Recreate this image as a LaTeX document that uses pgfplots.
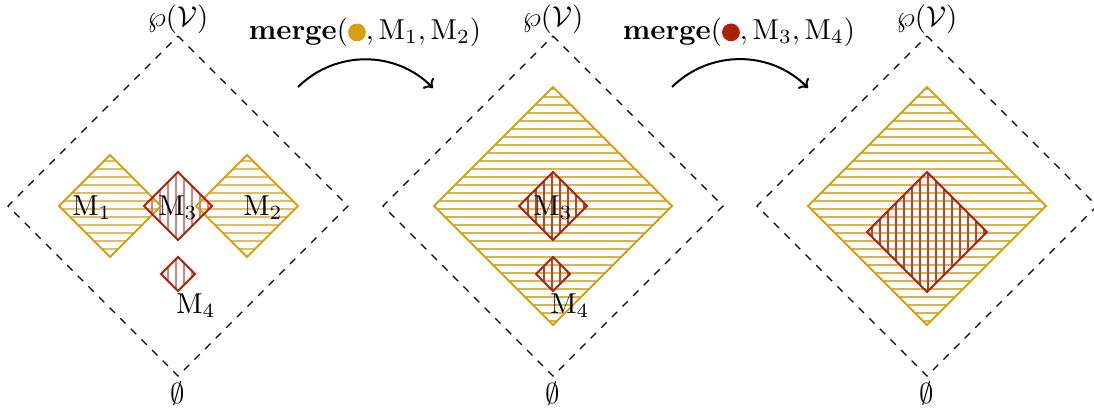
\documentclass[border=0pt]{standalone}
\usepackage{graphicx}
\usepackage{pgfplots}
\pgfplotsset{compat=1.18}
\usetikzlibrary{patterns.meta,arrows.meta}
\definecolor{ylw}{RGB}{214,160,18}
\definecolor{rd}{RGB}{172,32,10}
\tikzset{hpat/.style={pattern={Lines[angle=0,distance=3.2pt,line width=0.6pt]}},
         vpat/.style={pattern={Lines[angle=90,distance=3.2pt,line width=0.6pt]}}}
\newcommand\T[1]{\scalebox{1.15}{\normalsize #1}}
\begin{document}
\begin{tikzpicture}
\begin{axis}[
  x=0.4pt, y=0.4pt, y dir=reverse,
  xmin=0, xmax=1094, ymin=0, ymax=409,
  hide axis, clip=false,
]
% outer dashed lattices
\addplot[black, dashed, line width=0.45pt, no markers] coordinates {(178,36) (348,206) (178,376) (8,206) (178,36)};
\addplot[black, dashed, line width=0.45pt, no markers] coordinates {(553,36) (723,206) (553,376) (383,206) (553,36)};
\addplot[black, dashed, line width=0.45pt, no markers] coordinates {(927,36) (1097,206) (927,376) (757,206) (927,36)};
% panel 1
\addplot[draw=ylw, line width=0.8pt, no markers, hpat, pattern color=ylw!70!white] coordinates {(110,155) (161,206) (110,257) (59,206)} -- cycle;
\addplot[draw=ylw, line width=0.8pt, no markers, hpat, pattern color=ylw!70!white] coordinates {(247,155) (298,206) (247,257) (196,206)} -- cycle;
\addplot[draw=rd, line width=0.8pt, no markers, vpat, pattern color=rd!55!white] coordinates {(178,172) (212,206) (178,240) (144,206)} -- cycle;
\addplot[draw=rd, line width=0.8pt, no markers, vpat, pattern color=rd!55!white] coordinates {(178,257) (195,274) (178,291) (161,274)} -- cycle;
% panel 2
\addplot[draw=ylw, line width=0.8pt, no markers, hpat, pattern color=ylw!80!white] coordinates {(553,87) (672,206) (553,325) (434,206)} -- cycle;
\addplot[draw=rd, line width=0.8pt, no markers, vpat, pattern color=rd!85!white] coordinates {(553,172) (587,206) (553,240) (519,206)} -- cycle;
\addplot[draw=rd, line width=0.8pt, no markers, vpat, pattern color=rd!85!white] coordinates {(553,257) (570,274) (553,291) (536,274)} -- cycle;
% panel 3
\addplot[draw=ylw, line width=0.8pt, no markers, hpat, pattern color=ylw!80!white] coordinates {(927,87) (1046,206) (927,325) (808,206)} -- cycle;
\addplot[draw=rd, line width=0.8pt, no markers, vpat, pattern color=rd!85!white] coordinates {(927,172) (987,232) (927,292) (867,232)} -- cycle;
% labels
\node at (axis cs:92,208) {\T{$\mathrm{M}_1$}};
\node at (axis cs:178,208) {\T{$\mathrm{M}_3$}};
\node at (axis cs:263,208) {\T{$\mathrm{M}_2$}};
\node at (axis cs:196,306) {\T{$\mathrm{M}_4$}};
\node at (axis cs:553,208) {\T{$\mathrm{M}_3$}};
\node at (axis cs:570,306) {\T{$\mathrm{M}_4$}};
\node at (axis cs:178,19) {\T{$\wp(\mathcal{V})$}};
\node at (axis cs:553,19) {\T{$\wp(\mathcal{V})$}};
\node at (axis cs:927,19) {\T{$\wp(\mathcal{V})$}};
\node at (axis cs:178,394) {\T{$\emptyset$}};
\node at (axis cs:553,394) {\T{$\emptyset$}};
\node at (axis cs:927,394) {\T{$\emptyset$}};
\node at (axis cs:365,32) {\T{\textbf{merge}(\tikz[baseline=-0.55ex]\fill[ylw] (0,0) circle (3.1pt);$, \mathrm{M}_1, \mathrm{M}_2)$}};
\node at (axis cs:739,32) {\T{\textbf{merge}(\tikz[baseline=-0.55ex]\fill[rd] (0,0) circle (3.1pt);$, \mathrm{M}_3, \mathrm{M}_4)$}};
\draw[line width=0.8pt, -{To[length=3pt,width=6pt]}] (axis cs:298,87) to[bend left=45] (axis cs:433,88);
\draw[line width=0.8pt, -{To[length=3pt,width=6pt]}] (axis cs:672,87) to[bend left=45] (axis cs:808,88);
\coordinate (BL) at (axis cs:0,409);
\coordinate (TR) at (axis cs:1094,0);
\end{axis}
\pgfresetboundingbox
\path (BL) rectangle (TR);
\end{tikzpicture}
\end{document}
